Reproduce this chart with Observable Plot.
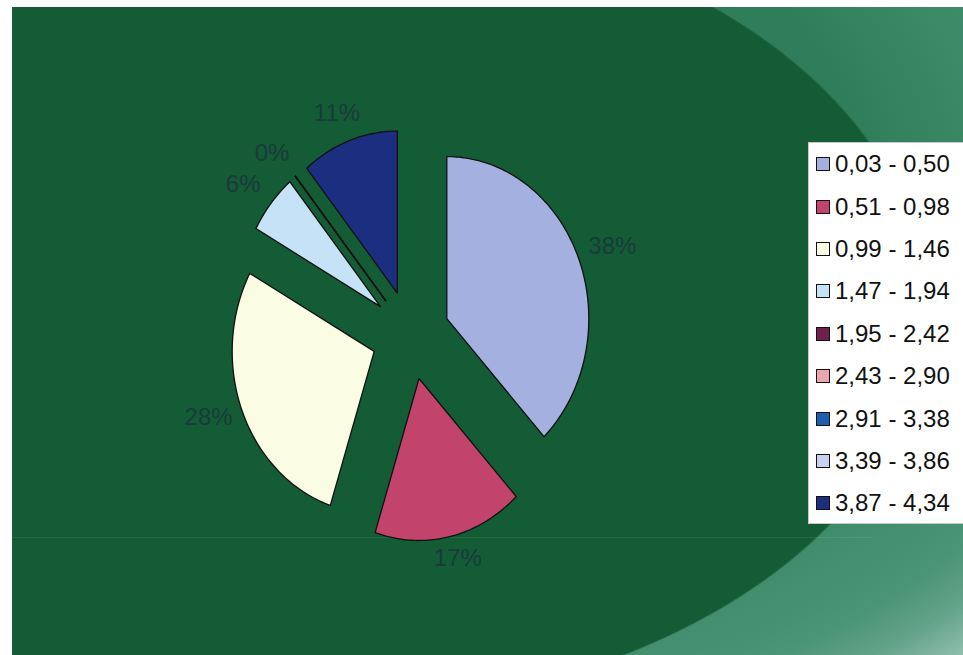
<!DOCTYPE html>
<html>
<head>
<meta charset="utf-8">
<script src="https://cdn.jsdelivr.net/npm/d3@7"></script>
<script src="https://cdn.jsdelivr.net/npm/@observablehq/plot@0.6"></script>
<style>
  html, body { margin: 0; padding: 0; background: #ffffff; }
  #wrap { position: relative; width: 963px; height: 655px; overflow: hidden; background: #ffffff; }
  #bg { position: absolute; left: 12px; top: 7px; right: 0; bottom: 0;
        background:
          radial-gradient(ellipse 627px 404px at 288px 303px, #135c35 0%, #135c35 99.6%, rgba(19,92,53,0) 100%),
          radial-gradient(ellipse 627px 404px at 288px 193px,
            #2f7d5a 0%, #2f7d5a 90%, #3b8967 110%, #4a9477 136%, #63a28a 145%, #92c1af 155%, #abd1c2 168%); }
  #seam { position: absolute; left: 12px; top: 537px; width: 860px; height: 1px; background: rgba(255,255,255,0.07); }
  #chart { position: absolute; left: 0; top: 0; }
  #legend { position: absolute; left: 808px; top: 142px; width: 170px; height: 382px;
            background: #ffffff; border: 1px solid #c8c8c8; box-sizing: border-box;
            font-family: "Liberation Sans", Arial, sans-serif; font-size: 24px; color: #111; }
  .row { height: 42.4px; display: flex; align-items: center; padding-left: 7px; }
  .sw { width: 12px; height: 12px; border: 1.5px solid #111; margin-right: 5px; flex: none; }
</style>
</head>
<body>
<div id="wrap">
  <div id="bg"></div>
  <div id="seam"></div>
  <div id="chart"></div>
  <div id="legend"></div>
</div>
<script>
// ---- data ----
const categories = ["0,03 - 0,50", "0,51 - 0,98", "0,99 - 1,46", "1,47 - 1,94", "1,95 - 2,42",
                    "2,43 - 2,90", "2,91 - 3,38", "3,39 - 3,86", "3,87 - 4,34"];
const shares = [38, 17, 28, 6, 0, 0, 0, 0, 11];
const colors = ["#a3b0e0", "#c2436b", "#fafce3", "#c6e2f6", "#6e1f4c",
                "#e8a5ae", "#1e5eb0", "#c8d2f0", "#1c2e80"];

// ---- layout ----
const W = 963, H = 655;
const cx = 410, cy = 334.5, rx = 142, ry = 162;   // pixel centre and radii of the pie
const explode = 0.275, labelR = 1.36;
const rad = d => d * Math.PI / 180;

const total = d3.sum(shares);
let acc = 0;
const slices = shares.map((v, i) => {
  const a0 = acc / total * 360; acc += v; const a1 = acc / total * 360;
  const m = (a0 + a1) / 2;
  const ox = explode * Math.sin(rad(m)), oy = explode * Math.cos(rad(m));
  const pts = [{x: ox, y: oy}];
  const steps = Math.max(1, Math.ceil(a1 - a0));
  for (let k = 0; k <= steps; k++) {
    const t = a0 + (a1 - a0) * k / steps;
    pts.push({x: ox + Math.sin(rad(t)), y: oy + Math.cos(rad(t))});
  }
  pts.push({x: ox, y: oy});
  const s = Math.sin(rad(m)), c = Math.cos(rad(m));
  return {
    cat: categories[i], color: colors[i], pts,
    label: {x: labelR * s + s * 24 / rx, y: labelR * c + c * 12 / ry,
            text: Math.round(v / total * 100) + "%"}
  };
});

// labels of coincident (zero) slices sit on top of each other: show each spot once
const labels = [];
const seen = new Set();
slices.forEach(s => {
  const key = s.label.x.toFixed(4) + "," + s.label.y.toFixed(4);
  if (!seen.has(key)) { seen.add(key); labels.push(s.label); }
});

const marks = slices.map(s => Plot.line(s.pts, {
  x: "x", y: "y", fill: s.color, stroke: "#111", strokeWidth: 1.3,
  strokeLinejoin: "miter", strokeMiterlimit: 4, curve: "linear"
}));
marks.push(Plot.text(labels, {
  x: "x", y: "y", text: "text", fontSize: 24, fill: "#1a3a3c", dy: -3,
  fontFamily: "'Liberation Sans', Arial, sans-serif", textAnchor: "middle"
}));

const plot = Plot.plot({
  width: W, height: H,
  marginTop: 0, marginRight: 0, marginBottom: 0, marginLeft: 0,
  x: {domain: [(0 - cx) / rx, (W - cx) / rx], axis: null},
  y: {domain: [(cy - H) / ry, cy / ry], axis: null},
  style: {background: "transparent", overflow: "visible"},
  marks
});
document.getElementById("chart").appendChild(plot);

// ---- legend ----
const legend = document.getElementById("legend");
categories.forEach((c, i) => {
  const row = document.createElement("div");
  row.className = "row";
  const sw = document.createElement("div");
  sw.className = "sw";
  sw.style.background = colors[i];
  const t = document.createElement("span");
  t.textContent = c;
  row.appendChild(sw); row.appendChild(t);
  legend.appendChild(row);
});
</script>
</body>
</html>
